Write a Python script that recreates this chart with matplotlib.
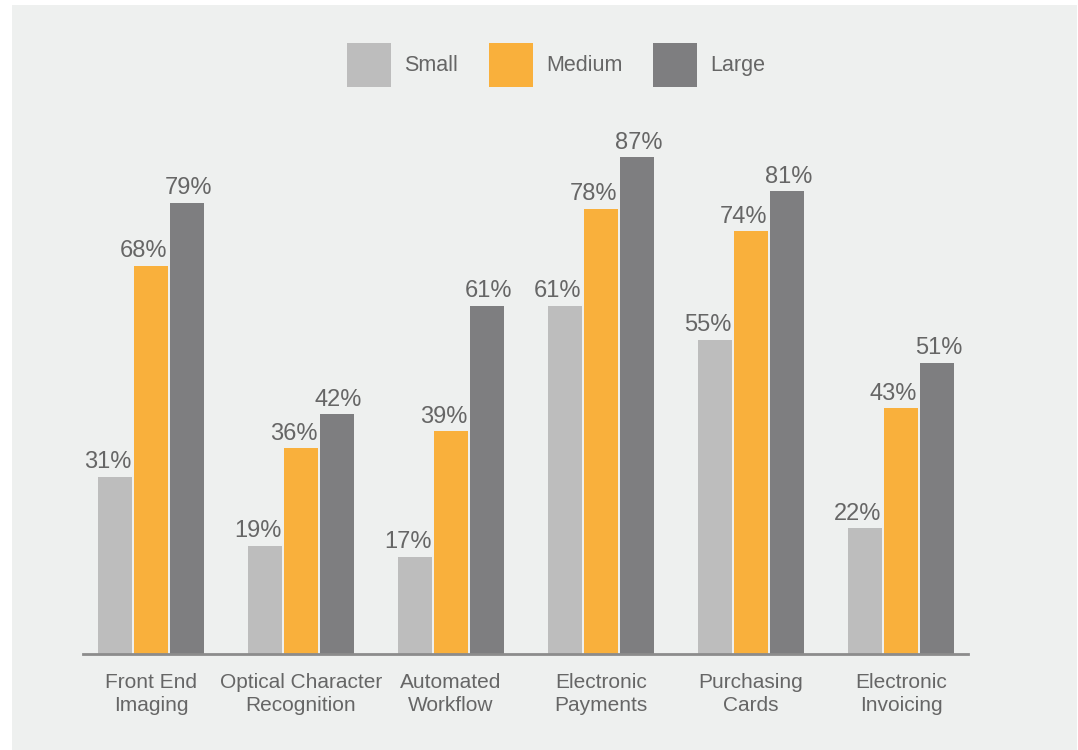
import matplotlib
matplotlib.use('Agg')
import matplotlib.pyplot as plt
from matplotlib.patches import Rectangle
import numpy as np

plt.rcParams['font.family'] = ['Liberation Sans', 'DejaVu Sans']

# data
categories = ['Front End\nImaging', 'Optical Character\nRecognition', 'Automated\nWorkflow',
              'Electronic\nPayments', 'Purchasing\nCards', 'Electronic\nInvoicing']
small = [31, 19, 17, 61, 55, 22]
medium = [68, 36, 39, 78, 74, 43]
large = [79, 42, 61, 87, 81, 51]
series_names = ['Small', 'Medium', 'Large']

colors = ['#bdbdbd', '#f9b03c', '#7e7e80']
bg = '#eef0ef'
text_col = '#666666'

fig = plt.figure(figsize=(10.78, 7.5), dpi=100, facecolor='white')
# light gray panel behind everything
fig.patches.append(Rectangle((12 / 1078, 0), 1065 / 1078, 745 / 750,
                             transform=fig.transFigure, facecolor=bg, edgecolor='none', zorder=-10))

ax = fig.add_axes([83 / 1078, 96 / 750, 885 / 1078, 554 / 750])
ax.set_facecolor('none')

x = np.arange(len(categories))
w = 34 / 150
step = 36 / 150
for i, (vals, name) in enumerate(zip([small, medium, large], series_names)):
    pos = x + (i - 1) * step
    ax.bar(pos, vals, width=w, color=colors[i], label=name, zorder=2)
    for p, v in zip(pos, vals):
        # small/medium labels sit flush with the bar's right edge, large ones are centred
        if i < 2:
            ax.annotate(f'{v}%', (p + w / 2, v), xytext=(-0.5, 6.2), textcoords='offset points',
                        ha='right', va='baseline', fontsize=17, color=text_col)
        else:
            ax.annotate(f'{v}%', (p, v), xytext=(1.2, 6.2), textcoords='offset points',
                        ha='center', va='baseline', fontsize=17, color=text_col)

ax.set_xlim((83 - 151) / 150, (968 - 151) / 150)
ax.set_ylim(0, 554 / 5.71)

ax.set_xticks(x)
ax.set_xticklabels(categories, fontsize=15, color=text_col, linespacing=1.31)
ax.tick_params(axis='x', length=0, pad=13.5)
ax.set_yticks([])
for s in ['top', 'right', 'left']:
    ax.spines[s].set_visible(False)
ax.spines['bottom'].set_color('#8c8c8c')
ax.spines['bottom'].set_linewidth(2)

fig.legend(loc='center', bbox_to_anchor=(556 / 1078, 1 - 65 / 750), ncol=3, frameon=False,
           fontsize=15.5, handlelength=2.05, handleheight=2.78, handletextpad=0.6,
           columnspacing=1.45, labelcolor=text_col, borderaxespad=0)

fig.savefig('out.png', dpi=100, facecolor=fig.get_facecolor())
